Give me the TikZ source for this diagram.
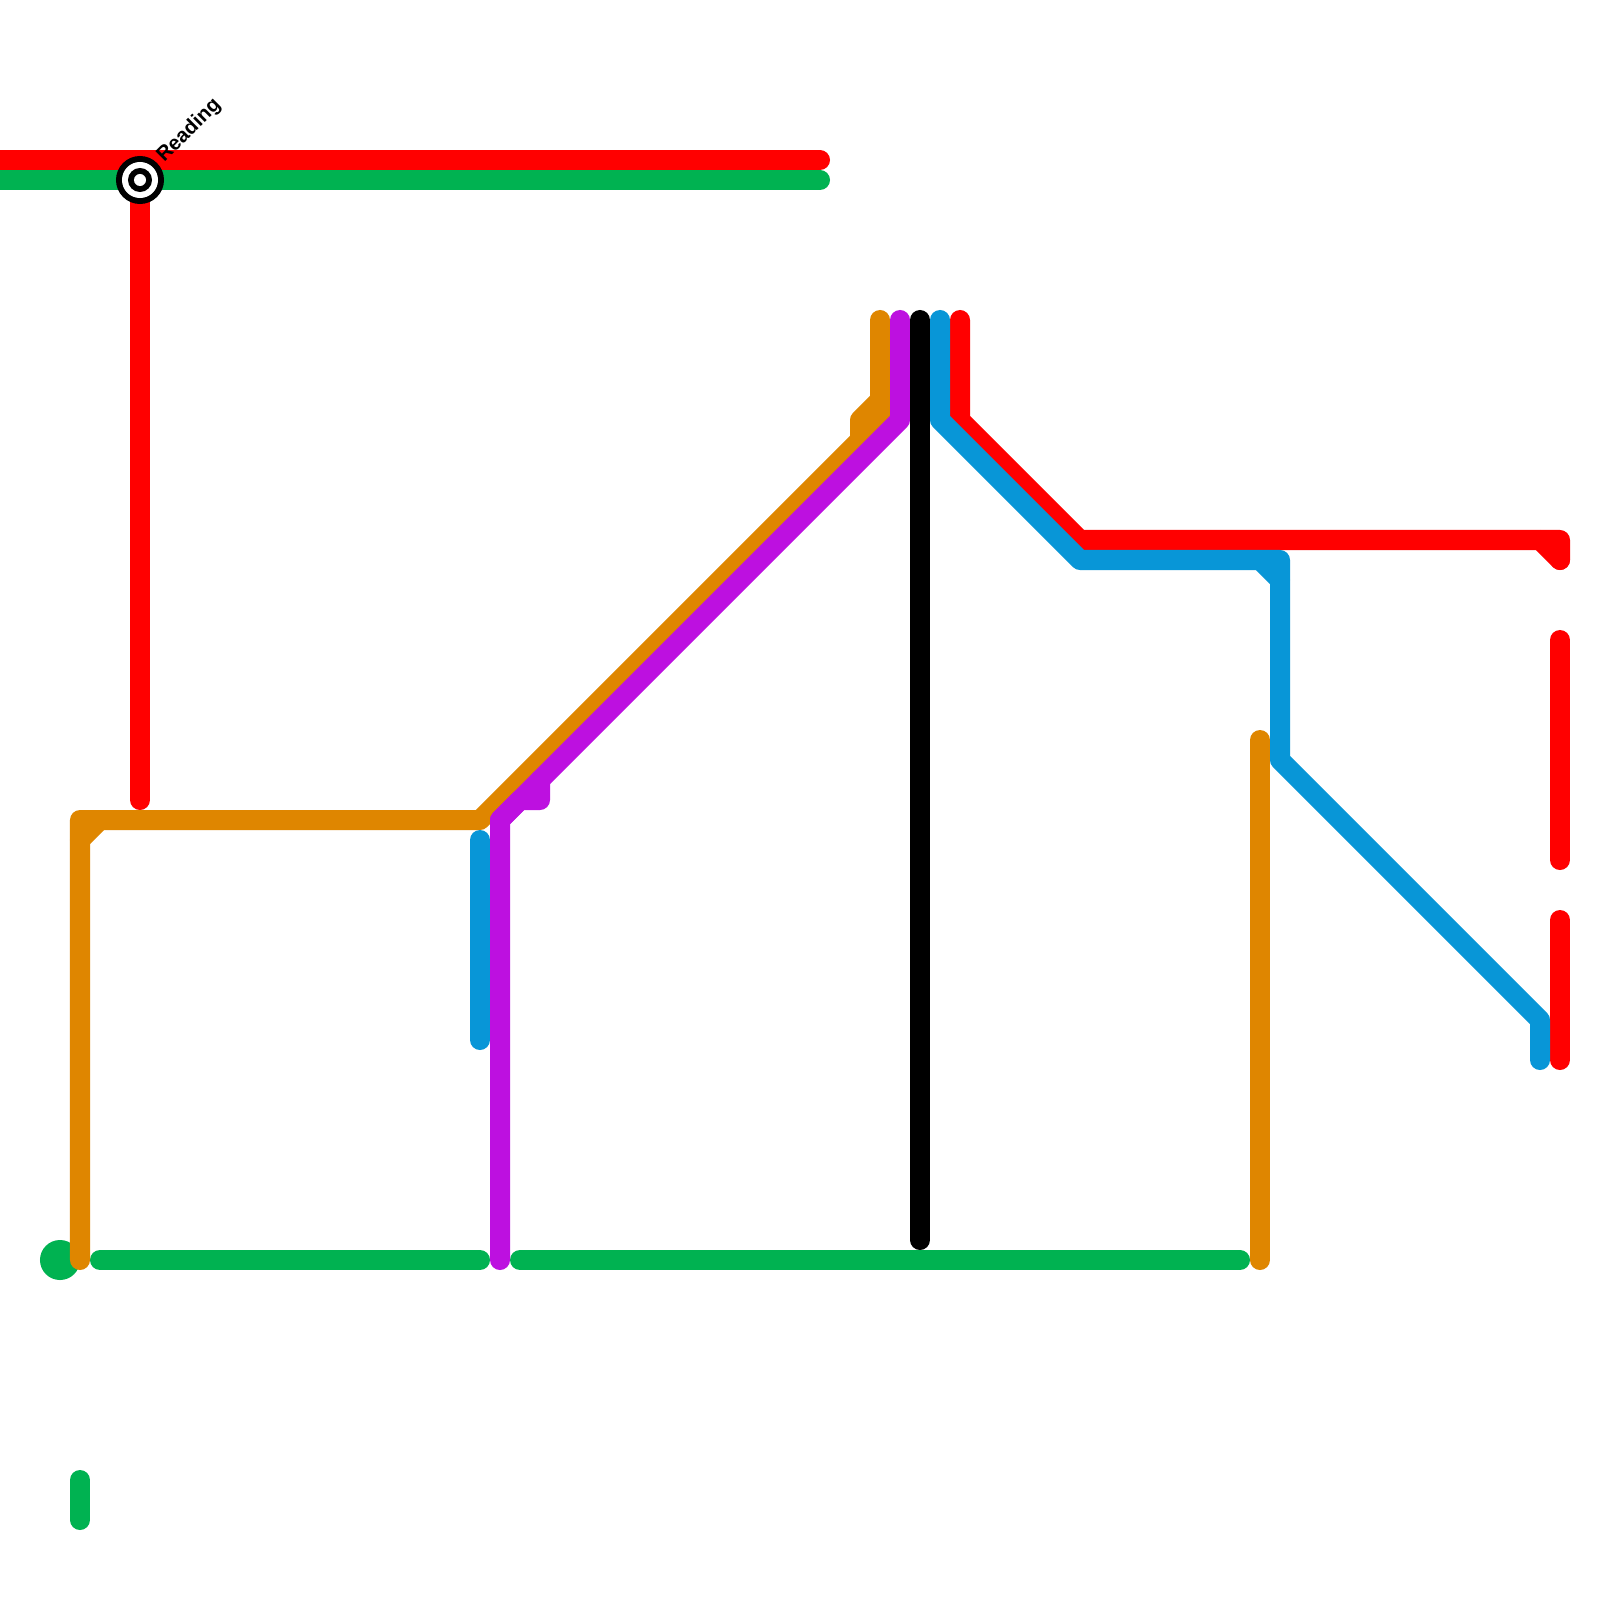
\documentclass[tikz,border=0pt]{standalone}
\usepackage{fontspec}
\setmainfont{Liberation Sans}
\definecolor{mapred}{HTML}{FF0000}
\definecolor{mapgreen}{HTML}{00B251}
\definecolor{maporange}{HTML}{DF8600}
\definecolor{mappurple}{HTML}{BD10E0}
\definecolor{mapblue}{HTML}{0896D7}
\usetikzlibrary{positioning}
\begin{document}
\begin{tikzpicture}[
    x=0.01cm, y=-0.01cm,
    mapline/.style={line width=0.2cm, line cap=round, line join=round},
    stnring/.style={circle, inner sep=0pt, outer sep=0pt}
  ]
    \useasboundingbox (0,0) rectangle (1600,1600);
    \clip (0,0) rectangle (1600,1600);
    \fill[white] (0,0) rectangle (1600,1600);
    % green
    \fill[mapgreen] (60,1260) circle (0.2cm);
    \draw[mapline, mapgreen] (-40,180) -- (820,180);
    \draw[mapline, mapgreen] (100,1260) -- (480,1260);
    \draw[mapline, mapgreen] (520,1260) -- (1240,1260);
    \draw[mapline, mapgreen] (80,1480) -- (80,1520);
    % red
    \draw[mapline, mapred] (-40,160) -- (820,160);
    \draw[mapline, mapred] (140,180) -- (140,800);
    \draw[mapline, mapred] (960,320) -- (960,420) -- (1080,540) -- (1560,540) -- (1560,560);
    \draw[mapline, mapred] (1540,540) -- (1560,560);
    \draw[mapline, mapred] (1560,640) -- (1560,860);
    \draw[mapline, mapred] (1560,920) -- (1560,1060);
    % orange
    \draw[mapline, maporange] (80,1260) -- (80,820) -- (480,820) -- (880,420) -- (880,320);
    \draw[mapline, maporange] (80,840) -- (100,820);
    \draw[mapline, maporange] (880,400) -- (860,420) -- (860,440);
    \draw[mapline, maporange] (1260,740) -- (1260,1260);
    % purple
    \draw[mapline, mappurple] (900,320) -- (900,420) -- (500,820) -- (500,1260);
    \draw[mapline, mappurple] (500,820) -- (520,800) -- (540,800) -- (540,780);
    % blue
    \draw[mapline, mapblue] (940,320) -- (940,420) -- (1080,560) -- (1280,560) -- (1280,760) -- (1540,1020) -- (1540,1060);
    \draw[mapline, mapblue] (1260,560) -- (1280,580);
    \draw[mapline, mapblue] (480,840) -- (480,1040);
    % black
    \draw[mapline, black] (920,320) -- (920,1240);
    % station
    \node[stnring, fill=black, minimum size=0.48cm] (reading) at (140,180) {};
    \node[stnring, fill=white, minimum size=0.36cm] (readingw) at (reading.center) {};
    \node[stnring, fill=black, minimum size=0.24cm] (readingk) at (reading.center) {};
    \node[stnring, fill=white, minimum size=0.12cm] (readingc) at (reading.center) {};
    \node[anchor=base west, inner sep=0pt, rotate=45, font=\fontsize{5.8pt}{6pt}\selectfont\bfseries] (readinglabel) at (164,163) {Reading};
  \end{tikzpicture}
\end{document}
